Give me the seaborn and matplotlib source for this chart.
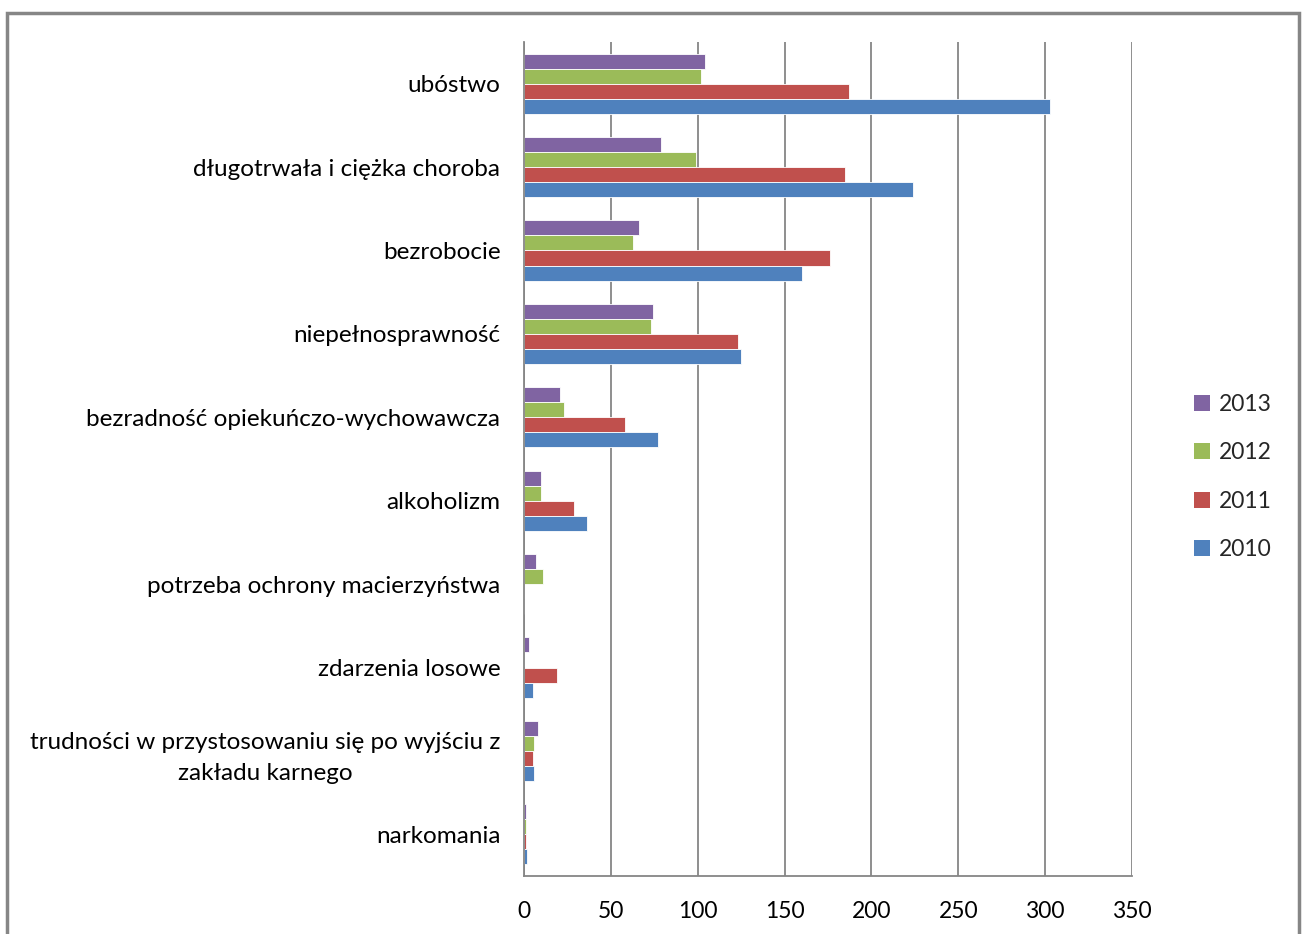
import numpy as np
import matplotlib
matplotlib.use("Agg")
import matplotlib.pyplot as plt
from matplotlib.patches import Rectangle, Patch
import pandas as pd
import seaborn as sns

sns.set_style("white")
plt.rcParams['font.family'] = ['Lato', 'DejaVu Sans']

categories = ["ubóstwo", "długotrwała i ciężka choroba", "bezrobocie",
              "niepełnosprawność", "bezradność opiekuńczo-wychowawcza",
              "alkoholizm", "potrzeba ochrony macierzyństwa", "zdarzenia losowe",
              "trudności w przystosowaniu się po wyjściu z\nzakładu karnego",
              "narkomania"]
years = ["2013", "2012", "2011", "2010"]
v2013 = [104, 79, 66, 74, 21, 10, 7, 3, 8, 1]
v2012 = [102, 99, 63, 73, 23, 10, 11, 0, 6, 1]
v2011 = [187, 185, 176, 123, 58, 29, 0, 19, 5, 1]
v2010 = [303, 224, 160, 125, 77, 36, 0, 5, 6, 2]
colors = ["#8064A2", "#9BBB59", "#C0504D", "#4F81BD"]

rows = []
for yr, vals in zip(years, [v2013, v2012, v2011, v2010]):
    for c, v in zip(categories, vals):
        rows.append({"kategoria": c, "rok": yr, "liczba": v})
df = pd.DataFrame(rows)

fig = plt.figure(figsize=(13.04, 9.34), dpi=100)
ax = fig.add_axes([524/1304, 58/934, 608/1304, 834/934])

sns.barplot(data=df, y="kategoria", x="liczba", hue="rok", order=categories,
            hue_order=years, palette=colors, saturation=1, orient="h", width=0.72,
            edgecolor="white", linewidth=0.6, legend=False, ax=ax)

gray = "#868686"
ax.set_xlim(0, 350)
ax.set_ylim(9.5, -0.5)
ax.set_xticks(np.arange(0, 351, 50))
ax.xaxis.grid(True, color=gray, linewidth=1.3)
ax.set_axisbelow(True)
ax.set_xlabel("")
ax.set_ylabel("")
for s in ["top", "right"]:
    ax.spines[s].set_visible(False)
for s in ["left", "bottom"]:
    ax.spines[s].set_color(gray)
    ax.spines[s].set_linewidth(1.3)

ax.set_yticks(np.arange(-0.5, 10, 1), minor=True)
ax.tick_params(axis="y", which="major", length=0, pad=17, labelsize=17.5, colors="black")
ax.tick_params(axis="y", which="minor", length=5, width=1.3, color=gray, direction="out")
ax.tick_params(axis="x", length=5, width=1.3, color=gray, direction="out", pad=13,
               labelsize=16.5, labelcolor="black")
for t in ax.get_yticklabels():
    t.set_multialignment("center")
    t.set_linespacing(1.6)

handles = [Patch(facecolor=c, edgecolor="none") for c in colors]
fig.legend(handles, years, loc="center left", bbox_to_anchor=(1194/1304, 1 - 477/934),
           frameon=False, fontsize=16.5, handlelength=0.7, handleheight=0.7,
           handletextpad=0.4, labelspacing=1.2, borderpad=0, borderaxespad=0)

frame = Rectangle((7/1304, -0.1), 1292/1304, 0.1 + 1 - 13/934, transform=fig.transFigure,
                  fill=False, edgecolor=gray, linewidth=2.5, clip_on=False)
fig.patches.append(frame)

fig.savefig("out.png", dpi=100, facecolor="white")
